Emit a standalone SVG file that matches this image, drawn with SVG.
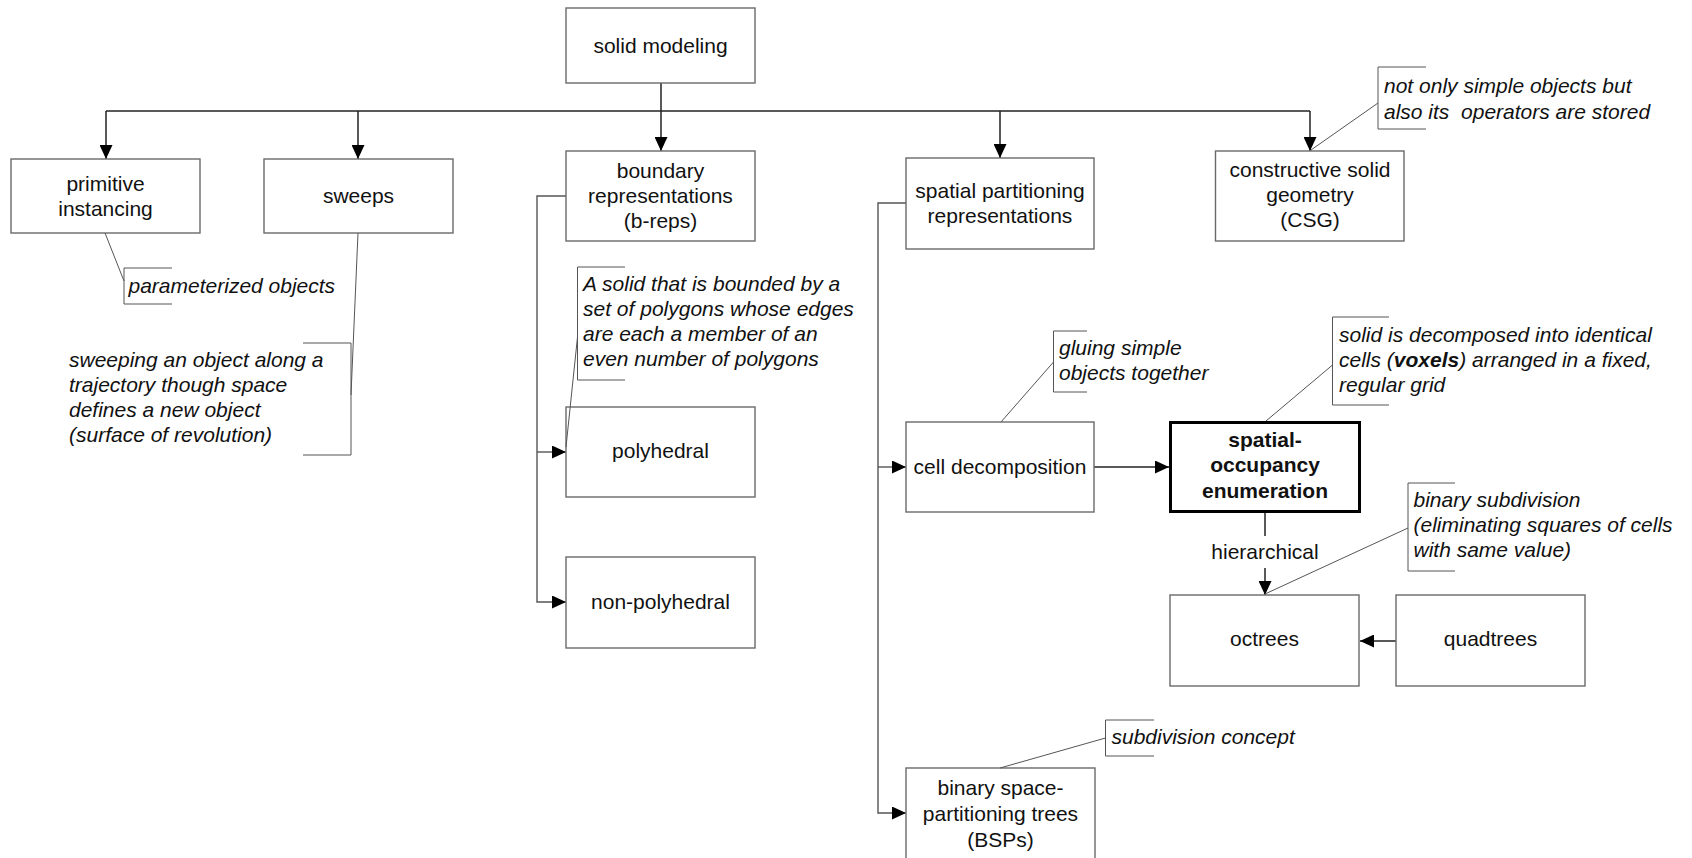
<svg xmlns="http://www.w3.org/2000/svg" width="1692" height="858" viewBox="0 0 1692 858">
<style>
.box{fill:#fff;stroke:#6a6a6a;stroke-width:1.4}
.bold{fill:#fff;stroke:#000;stroke-width:3}
.t{font-family:"Liberation Sans",Arial,sans-serif;font-size:21px;fill:#111;text-anchor:middle}
.tb{font-weight:bold}
.n{font-family:"Liberation Sans",Arial,sans-serif;font-size:21px;font-style:italic;fill:#111}
.c{fill:none;stroke:#222;stroke-width:1.5}
.cg{fill:none;stroke:#555;stroke-width:1.4}
.co{fill:none;stroke:#555;stroke-width:1}
</style>
<defs>
<marker id="ah" markerWidth="14" markerHeight="13" refX="14" refY="6.5" orient="auto" markerUnits="userSpaceOnUse">
<path d="M0,0 L14,6.5 L0,13 Z" fill="#000"/>
</marker>
</defs>
<rect width="1692" height="858" fill="#fff"/>

<g id="connectors">
<path class="c" d="M661,83 V151" marker-end="url(#ah)"/>
<path class="c" d="M106,111 H1310"/>
<path class="c" d="M106,111 V159" marker-end="url(#ah)"/>
<path class="c" d="M358,111 V159" marker-end="url(#ah)"/>
<path class="c" d="M1000,111 V158" marker-end="url(#ah)"/>
<path class="c" d="M1310,111 V151" marker-end="url(#ah)"/>
<path class="cg" d="M566,196 H537 V602 H566" marker-end="url(#ah)"/>
<path class="cg" d="M537,452 H566" marker-end="url(#ah)"/>
<path class="cg" d="M906,203 H878 V813 H906" marker-end="url(#ah)"/>
<path class="cg" d="M878,467 H906" marker-end="url(#ah)"/>
<path class="c" d="M1094,467 H1169" marker-end="url(#ah)"/>
<path class="c" d="M1265,513 V536"/>
<path class="c" d="M1265,568 V595" marker-end="url(#ah)"/>
<text class="t" x="1265" y="559">hierarchical</text>
<path class="c" d="M1396,641 H1360" marker-end="url(#ah)"/>
</g>

<g id="solid-modeling"><rect class="box" x="566" y="8" width="189" height="75"/><text class="t" x="660.5" y="52.5">solid modeling</text></g>
<g id="primitive-instancing"><rect class="box" x="11" y="159" width="189" height="74"/><text class="t" x="105.5" y="191">primitive</text><text class="t" x="105.5" y="216">instancing</text></g>
<g id="sweeps"><rect class="box" x="264" y="159" width="189" height="74"/><text class="t" x="358.5" y="203">sweeps</text></g>
<g id="boundary"><rect class="box" x="566" y="151" width="189" height="90"/><text class="t" x="660.5" y="178">boundary</text><text class="t" x="660.5" y="203">representations</text><text class="t" x="660.5" y="228">(b-reps)</text></g>
<g id="spatial-partitioning"><rect class="box" x="906" y="158" width="188" height="91"/><text class="t" x="1000" y="197.5">spatial partitioning</text><text class="t" x="1000" y="222.5">representations</text></g>
<g id="csg"><rect class="box" x="1215.5" y="151" width="188.5" height="90"/><text class="t" x="1310" y="177">constructive solid</text><text class="t" x="1310" y="202">geometry</text><text class="t" x="1310" y="227">(CSG)</text></g>
<g id="polyhedral"><rect class="box" x="566" y="407" width="189" height="90"/><text class="t" x="660.5" y="458">polyhedral</text></g>
<g id="non-polyhedral"><rect class="box" x="566" y="557" width="189" height="91"/><text class="t" x="660.5" y="609">non-polyhedral</text></g>
<g id="cell-decomposition"><rect class="box" x="906" y="422" width="188" height="90"/><text class="t" x="1000" y="473.5">cell decomposition</text></g>
<g id="spatial-occupancy"><rect class="bold" x="1170.5" y="422.5" width="189" height="89"/><text class="t tb" x="1265" y="446.5">spatial-</text><text class="t tb" x="1265" y="472">occupancy</text><text class="t tb" x="1265" y="497.5">enumeration</text></g>
<g id="octrees"><rect class="box" x="1170" y="595" width="189" height="91"/><text class="t" x="1264.5" y="646">octrees</text></g>
<g id="quadtrees"><rect class="box" x="1396" y="595" width="189" height="91"/><text class="t" x="1490.5" y="646">quadtrees</text></g>
<g id="bsp"><rect class="box" x="906" y="768" width="189" height="110"/><text class="t" x="1000.5" y="795">binary space-</text><text class="t" x="1000.5" y="821">partitioning trees</text><text class="t" x="1000.5" y="846.5">(BSPs)</text></g>

<g id="note-parameterized">
<path class="co" d="M105,233 L124,281"/>
<path class="co" d="M172,268 H124 V304 H172"/>
<text class="n" x="128.5" y="292.5">parameterized objects</text>
</g>
<g id="note-sweeping">
<path class="co" d="M358,233 L351,395"/>
<path class="co" d="M303,343 H351 V455 H303"/>
<text class="n" x="69" y="366.5">sweeping an object along a</text>
<text class="n" x="69" y="391.5">trajectory though space</text>
<text class="n" x="69" y="416.5">defines a new object</text>
<text class="n" x="69" y="441.5">(surface of revolution)</text>
</g>
<g id="note-brep">
<path class="co" d="M577.5,337 L566,447"/>
<path class="co" d="M625,267 H577.5 V380 H625"/>
<text class="n" x="583" y="290.5">A solid that is bounded by a</text>
<text class="n" x="583" y="316">set of polygons whose edges</text>
<text class="n" x="583" y="341">are each a member of an</text>
<text class="n" x="583" y="366">even number of polygons</text>
</g>
<g id="note-csg">
<path class="co" d="M1378,103 L1311,150"/>
<path class="co" d="M1426,67 H1378 V129 H1426"/>
<text class="n" x="1384" y="93">not only simple objects but</text>
<text class="n" x="1384" y="118.5">also its&#160; operators are stored</text>
</g>
<g id="note-gluing">
<path class="co" d="M1053.5,362 L1001,422"/>
<path class="co" d="M1087,331 H1053.5 V392 H1087"/>
<text class="n" x="1059" y="355">gluing simple</text>
<text class="n" x="1059" y="380">objects together</text>
</g>
<g id="note-voxels">
<path class="co" d="M1332.5,365 L1266,421"/>
<path class="co" d="M1389,317 H1332.5 V405 H1389"/>
<text class="n" x="1339" y="342">solid is decomposed into identical</text>
<text class="n" x="1339" y="367">cells (<tspan font-weight="bold">voxels</tspan>) arranged in a fixed,</text>
<text class="n" x="1339" y="392">regular grid</text>
</g>
<g id="note-binary">
<path class="co" d="M1408,528 L1265,594"/>
<path class="co" d="M1455,483 H1408 V571 H1455"/>
<text class="n" x="1413.5" y="507">binary subdivision</text>
<text class="n" x="1413.5" y="532">(eliminating squares of cells</text>
<text class="n" x="1413.5" y="557">with same value)</text>
</g>
<g id="note-subdivision">
<path class="co" d="M1105.5,738 L1000,768"/>
<path class="co" d="M1154,720 H1105.5 V756 H1154"/>
<text class="n" x="1111.5" y="744">subdivision concept</text>
</g>
</svg>
